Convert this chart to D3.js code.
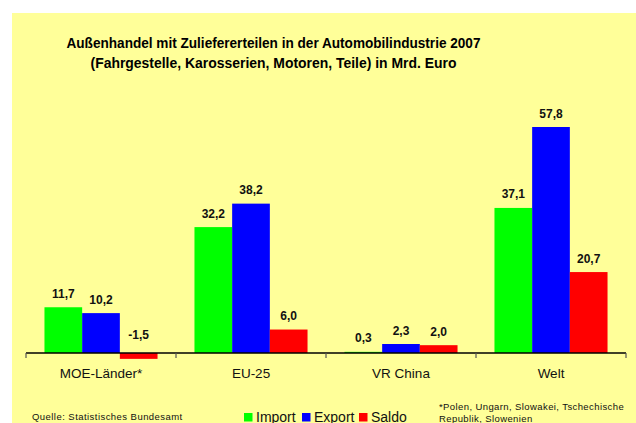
<!DOCTYPE html>
<html>
<head>
<meta charset="utf-8">
<script src="https://cdn.jsdelivr.net/npm/d3@7"></script>
<style>
  body { margin: 0; background: #ffffff; }
  svg { display: block; font-family: "Liberation Sans", Arial, sans-serif; }
</style>
</head>
<body>
<svg id="chart" width="636" height="423"></svg>
<script>
// data
var categories = ["MOE-Länder*", "EU-25", "VR China", "Welt"];
var series = ["Import", "Export", "Saldo"];
var importValues = [11.7, 32.2, 0.3, 37.1];
var exportValues = [10.2, 38.2, 2.3, 57.8];
var saldoValues = [-1.5, 6.0, 2.0, 20.7];
var colors = ["#00ff00", "#0000ff", "#ff0000"];

var titleLines = [
  "Außenhandel mit Zuliefererteilen in der Automobilindustrie 2007",
  "(Fahrgestelle, Karosserien, Motoren, Teile) in Mrd. Euro"
];
var sourceText = "Quelle: Statistisches Bundesamt";
var noteLines = ["*Polen, Ungarn, Slowakei, Tschechische", "Republik, Slowenien"];

var svg = d3.select("#chart");
// German decimal comma, plain hyphen for negatives
var fmt = function(v) { return d3.format(".1f")(v).replace(".", ",").replace("\u2212", "-"); };

// chart background
svg.append("rect")
    .attr("x", 12).attr("y", 13)
    .attr("width", 624).attr("height", 410)
    .style("fill", "#ffff99");

// title (the original is set a bit narrow)
var titleWidths = [414, 366];
svg.append("g").selectAll("text")
    .data(titleLines)
  .enter().append("text")
    .attr("x", 273.5)
    .attr("y", function(d, i) { return 47.5 + i * 20; })
    .attr("text-anchor", "middle")
    .attr("textLength", function(d, i) { return titleWidths[i]; })
    .attr("lengthAdjust", "spacingAndGlyphs")
    .style("font-weight", "bold")
    .style("font-size", "15.5px")
    .style("fill", "#000")
    .text(function(d) { return d; });

var x0 = d3.scaleBand().domain(categories).range([26, 626]).paddingInner(0).paddingOuter(0);
var x1 = d3.scaleBand().domain(series).range([0, x0.bandwidth()]).paddingInner(0).paddingOuter(0.49);
var y = d3.scaleLinear().domain([0, 57.8]).range([353, 127]);

var rows = categories.map(function(c, i) {
  return { cat: c, vals: [importValues[i], exportValues[i], saldoValues[i]] };
});

var groups = svg.append("g").attr("class", "bars")
  .selectAll("g")
  .data(rows)
  .enter().append("g")
    .attr("transform", function(d) { return "translate(" + x0(d.cat) + ",0)"; });

var cells = groups.selectAll("g")
  .data(function(d) {
    return d.vals.map(function(v, j) { return { key: series[j], value: v, color: colors[j] }; });
  })
  .enter().append("g");

cells.append("rect")
    .attr("x", function(d) { return x1(d.key); })
    .attr("y", function(d) { return y(Math.max(0, d.value)); })
    .attr("width", x1.bandwidth())
    .attr("height", function(d) { return Math.abs(y(d.value) - y(0)); })
    .style("fill", function(d) { return d.color; });

cells.append("text")
    .attr("x", function(d) { return x1(d.key) + x1.bandwidth() / 2; })
    .attr("y", function(d) { return d.value < 0 ? y(0) - 14 : y(d.value) - 9.5; })
    .attr("text-anchor", "middle")
    .style("font-weight", "bold")
    .style("font-size", "12px")
    .style("fill", "#111")
    .text(function(d) { return fmt(d.value); });

// x axis
var xAxis = d3.axisBottom(x0).tickSize(0).tickPadding(0);
var axis = svg.append("g")
    .attr("transform", "translate(0," + y(0) + ")")
    .call(xAxis);
axis.select(".domain").remove();
axis.selectAll("text")
    .attr("y", 25)
    .attr("dy", 0)
    .style("font-family", "'Liberation Sans', Arial, sans-serif")
    .style("font-size", "13.5px")
    .style("fill", "#111");

axis.append("line")
    .attr("x1", 26).attr("x2", 626)
    .attr("y1", 0).attr("y2", 0)
    .style("stroke", "#000")
    .style("stroke-width", 1.3);

// category boundary ticks
var bounds = categories.map(function(c) { return x0(c); }).concat([x0.range()[1]]);
axis.selectAll(".bound")
    .data(bounds)
  .enter().append("line")
    .attr("class", "bound")
    .attr("x1", function(d) { return d; }).attr("x2", function(d) { return d; })
    .attr("y1", 0).attr("y2", 5)
    .style("stroke", "#555")
    .style("stroke-width", 1.2);

// legend
var legendX = [244, 302, 359];
var legend = svg.append("g").selectAll("g")
    .data(series)
  .enter().append("g")
    .attr("transform", function(d, i) { return "translate(" + legendX[i] + ",413)"; });
legend.append("rect")
    .attr("width", 8.5).attr("height", 8.5)
    .style("fill", function(d, i) { return colors[i]; });
legend.append("text")
    .attr("x", 12).attr("y", 8.5)
    .style("font-size", "14px")
    .style("fill", "#111")
    .text(function(d) { return d; });

// source and footnote
svg.append("text")
    .attr("x", 32).attr("y", 419.5)
    .style("font-size", "9.5px")
    .style("letter-spacing", "0.45px")
    .style("fill", "#111")
    .text(sourceText);

svg.append("g").selectAll("text")
    .data(noteLines)
  .enter().append("text")
    .attr("x", 439)
    .attr("y", function(d, i) { return 409.5 + i * 12; })
    .style("font-size", "9.5px")
    .style("letter-spacing", "0.4px")
    .style("fill", "#111")
    .text(function(d) { return d; });
</script>
</body>
</html>
